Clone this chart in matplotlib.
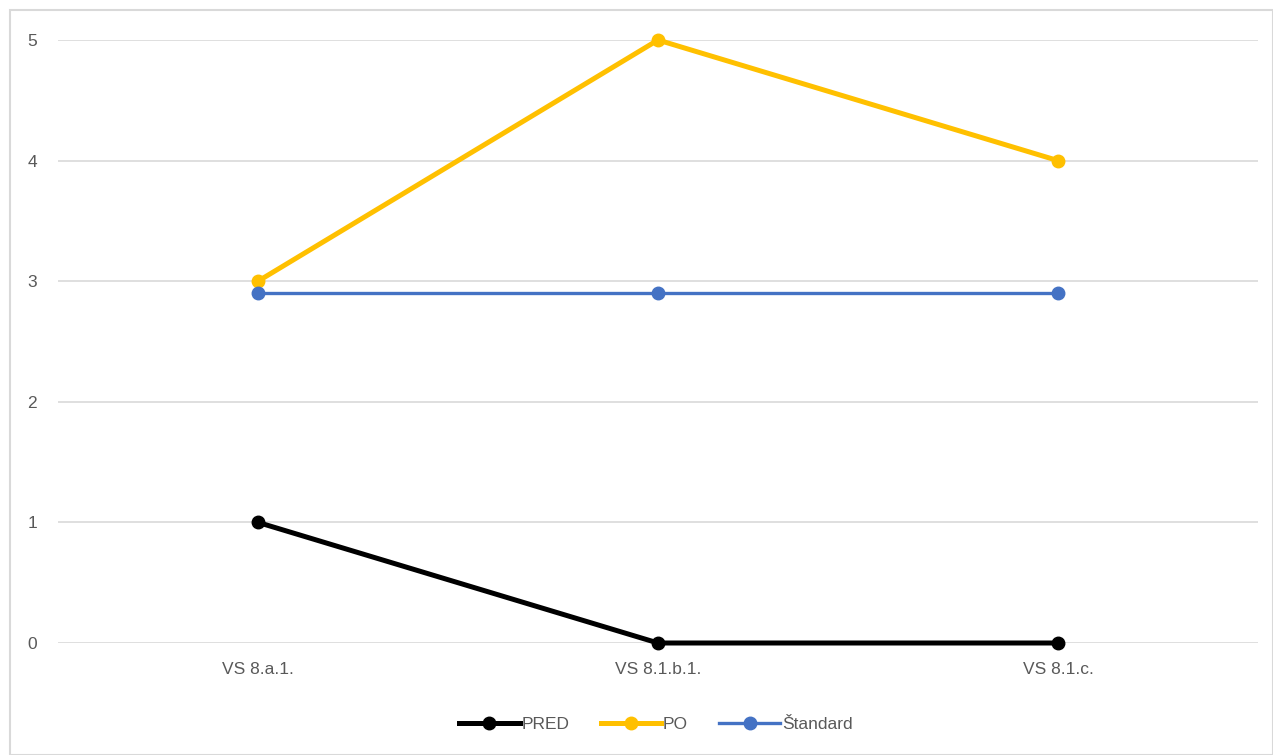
import matplotlib.pyplot as plt
from matplotlib.patches import Rectangle

plt.rcParams['font.family'] = ['Liberation Sans Narrow', 'Liberation Sans', 'DejaVu Sans']

# kategórie a hodnoty
kategorie = ['VS 8.a.1.', 'VS 8.1.b.1.', 'VS 8.1.c.']
pred = [1, 0, 0]
po = [3, 5, 4]
standard = [2.9, 2.9, 2.9]

W, H = 1273, 755
fig = plt.figure(figsize=(W / 100, H / 100), dpi=100)
ax = fig.add_axes([58 / W, (H - 643) / H, 1200 / W, 603 / H])

# rám okolo grafu
fig.patches.append(Rectangle((10 / W, 0), 1 - 10 / W, 1 - 10 / H, transform=fig.transFigure,
                             fill=False, edgecolor='#d9d9d9', linewidth=1.5))

x = range(len(kategorie))
ax.plot(x, pred, color='black', lw=3.6, marker='o', ms=9, label='PRED', clip_on=False, zorder=3)
ax.plot(x, po, color='#FFC000', lw=3.6, marker='o', ms=9, label='PO', clip_on=False, zorder=3)
ax.plot(x, standard, color='#4472C4', lw=2.4, marker='o', ms=9, label='Štandard', clip_on=False, zorder=4)

ax.set_xlim(-0.5, 2.5)
ax.set_ylim(0, 5)
ax.set_xticks(list(x))
ax.set_xticklabels(kategorie)
ax.set_yticks(range(6))
ax.grid(axis='y', color='#d9d9d9', lw=1.2)
ax.set_axisbelow(True)
for s in ax.spines.values():
    s.set_visible(False)
ax.tick_params(length=0, colors='#595959', labelsize=12.5)
ax.tick_params(axis='x', pad=14)
ax.tick_params(axis='y', pad=15)

leg = fig.legend(loc='center', bbox_to_anchor=(0.515, (H - 724) / H), ncol=3, frameon=False,
                 fontsize=12.5, handlelength=3.5, handletextpad=0.1, columnspacing=1.8)
for t in leg.get_texts():
    t.set_color('#595959')

fig.savefig('out.png', dpi=100)
